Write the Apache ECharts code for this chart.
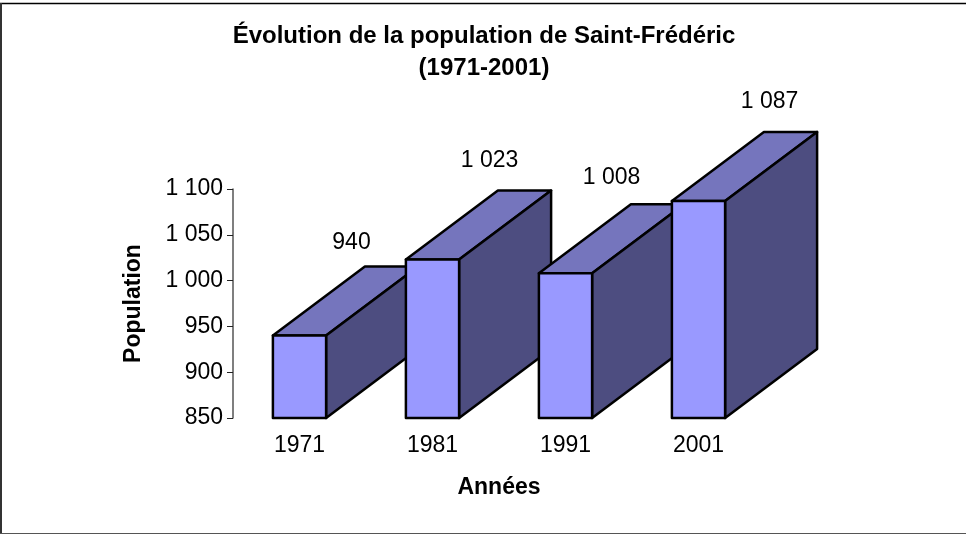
<!DOCTYPE html>
<html><head><meta charset="utf-8">
<style>html,body{margin:0;padding:0;background:#fff}#c{width:966px;height:534px}</style>
<script src="https://cdn.jsdelivr.net/npm/echarts@6/dist/echarts.min.js"></script>
</head><body><div id="c"></div>
<script>
const years = ['1971','1981','1991','2001'];
const population = [940,1023,1008,1087];
const yTicks = {min:850,max:1100,interval:50};
const labelShift = [[52,-93],[57,-99],[46,-96],[71,-99]];
const depth = [92,-69];
const fontFam = '"Liberation Sans", Arial, sans-serif';
const fmt = v => String(v).replace(/\B(?=(\d{3})+$)/g,' ');
const chart = echarts.init(document.getElementById('c'),null,{renderer:'canvas'});
function poly(points,fill){
  return {type:'polygon',shape:{points},style:{fill,stroke:'#000',lineWidth:2.5,lineJoin:'round'}};
}
function frameLine(x1,y1,x2,y2,stroke,lineWidth){
  return {type:'line',z:-10,shape:{x1,y1,x2,y2},style:{stroke,lineWidth}};
}
chart.setOption({
  animation:false,
  backgroundColor:'#fff',
  graphic:[
    frameLine(0,3.5,966,3.5,'#000',1.5),
    frameLine(1,3,1,534,'#333',2),
    frameLine(0,533.5,966,533.5,'#555',1)
  ],
  title:{text:'Évolution de la population de Saint-Frédéric\n(1971-2001)',left:479,top:15,textAlign:'center',
    textStyle:{fontFamily:fontFam,fontSize:24,fontWeight:'bold',color:'#000',lineHeight:32}},
  grid:{left:233,top:189,width:532,height:229},
  xAxis:{type:'category',data:years,name:'Années',nameLocation:'middle',nameGap:58,
    nameTextStyle:{fontFamily:fontFam,fontSize:23,fontWeight:'bold',color:'#000'},
    axisLine:{show:false},axisTick:{show:false},
    axisLabel:{fontFamily:fontFam,fontSize:23,color:'#000',margin:16}},
  yAxis:{type:'value',...yTicks,name:'Population',nameLocation:'middle',nameGap:88,
    nameTextStyle:{fontFamily:fontFam,fontSize:23,fontWeight:'bold',color:'#000'},
    axisLine:{show:true,lineStyle:{color:'#555',width:1.5}},
    axisTick:{show:true,length:6,lineStyle:{color:'#222',width:1}},
    splitLine:{show:false},
    axisLabel:{fontFamily:fontFam,fontSize:23,color:'#000',margin:10,formatter:fmt}},
  series:[{type:'custom',
    data:population.map((v,i)=>[i,v]),
    encode:{x:0,y:1},
    renderItem(params,api){
      const i=api.value(0), v=api.value(1);
      const top=api.coord([i,v]), base=api.coord([i,yTicks.min]);
      const w=api.size([1,0])[0]*0.4;
      const l=top[0]-w/2, r=top[0]+w/2, t=top[1], b=base[1];
      const [dx,dy]=depth;
      return {type:'group',children:[
        poly([[l,t],[r,t],[r+dx,t+dy],[l+dx,t+dy]],'#7575BD'),
        poly([[r,t],[r+dx,t+dy],[r+dx,b+dy],[r,b]],'#4D4D80'),
        poly([[l,t],[r,t],[r,b],[l,b]],'#9999FF'),
        {type:'text',style:{text:fmt(v),x:top[0]+labelShift[i][0],y:t+labelShift[i][1],
          textAlign:'center',textVerticalAlign:'middle',fill:'#000',fontFamily:fontFam,fontSize:23}}
      ]};
    }}]
});
</script></body></html>
